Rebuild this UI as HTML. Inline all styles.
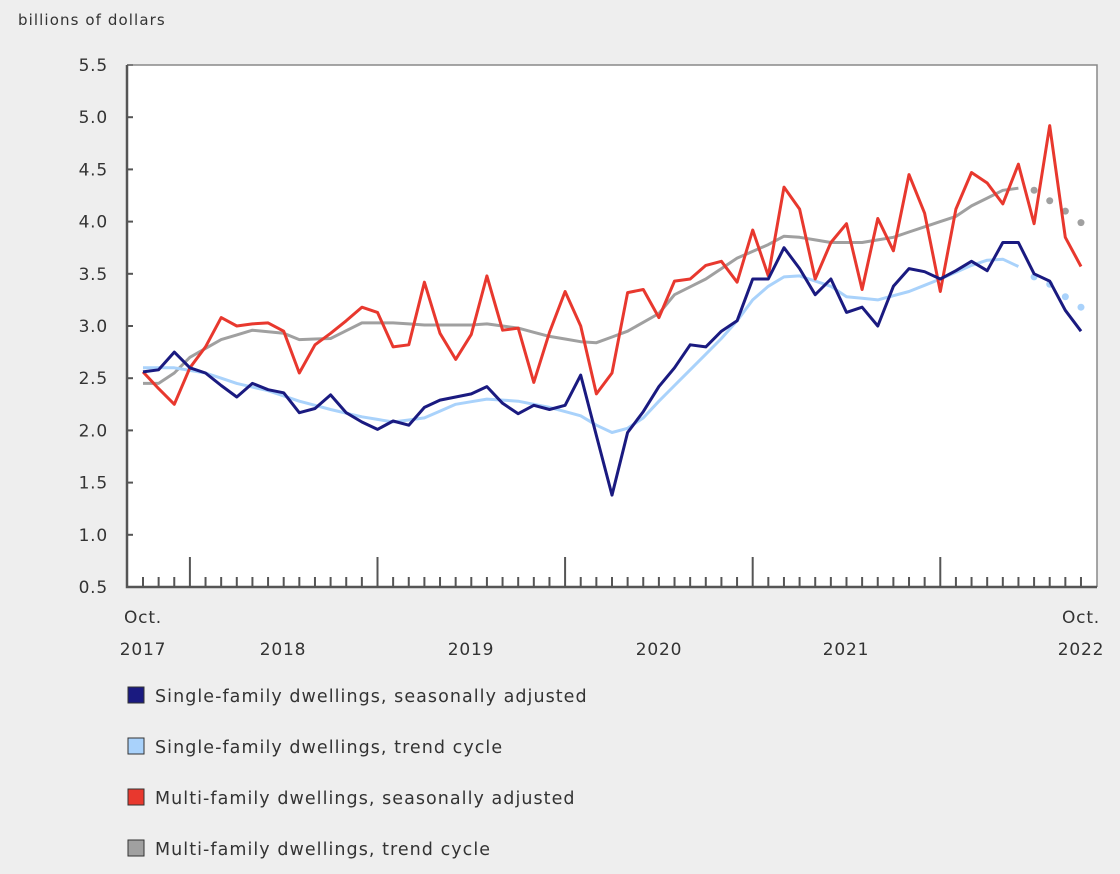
<!DOCTYPE html>
<html><head><meta charset="utf-8"><style>
body{margin:0;background:#eeeeee;width:1120px;height:874px;overflow:hidden;font-family:"DejaVu Sans","Liberation Sans",sans-serif;}
svg{position:absolute;left:0;top:0}
text{font-family:"DejaVu Sans","Liberation Sans",sans-serif;fill:#333}
</style></head><body>
<svg id="s" width="1120" height="874" xmlns="http://www.w3.org/2000/svg">
<rect x="127" y="65" width="970" height="522" fill="#fff"/>
<text x="18" y="25" font-size="15" letter-spacing="1.1">billions of dollars</text>
<g id="ax"></g>
<g id="ser"></g>
<g font-size="17" text-anchor="middle" letter-spacing="0.8">
<text x="143" y="623">Oct.</text><text x="143" y="655">2017</text>
<text x="283" y="655">2018</text><text x="471" y="655">2019</text>
<text x="659" y="655">2020</text><text x="846" y="655">2021</text>
<text x="1081" y="623">Oct.</text><text x="1081" y="655">2022</text>
</g>
<g font-size="17.5" letter-spacing="1.05">
<rect x="128" y="687" width="16" height="16" fill="#1a1a80" stroke="#333"/><text x="155" y="702">Single-family dwellings, seasonally adjusted</text>
<rect x="128" y="738" width="16" height="16" fill="#a9d2fb" stroke="#333"/><text x="155" y="753">Single-family dwellings, trend cycle</text>
<rect x="128" y="789" width="16" height="16" fill="#e8382e" stroke="#333"/><text x="155" y="804">Multi-family dwellings, seasonally adjusted</text>
<rect x="128" y="840" width="16" height="16" fill="#a0a0a0" stroke="#333"/><text x="155" y="855">Multi-family dwellings, trend cycle</text>
</g>
</svg>
<script>
const Y=v=>587-(v-0.5)*104.4, X=i=>143+i*15.633;
let ax='';
for(let k=0;k<=10;k++){const v=0.5+k*0.5,y=Y(v);ax+=`<text x="108" y="${y+6}" font-size="17" letter-spacing="0.8" text-anchor="end">${v.toFixed(1)}</text><line x1="127" y1="${y}" x2="133" y2="${y}" stroke="#555" stroke-width="2"/>`;}
for(let i=0;i<=60;i++){const x=X(i),maj=(i-3)%12==0;ax+=`<line x1="${x}" y1="587" x2="${x}" y2="${maj?557:577}" stroke="#555" stroke-width="2"/>`;}
ax+=`<path d="M127 65H1097V587" fill="none" stroke="#888" stroke-width="1.5"/><path d="M127 65V587H1097" fill="none" stroke="#555" stroke-width="2.5"/>`;
document.getElementById('ax').innerHTML=ax;
const red=[2.56,2.4,2.25,2.6,2.8,3.08,3.0,3.02,3.03,2.95,2.55,2.82,2.93,3.05,3.18,3.13,2.8,2.82,3.42,2.93,2.68,2.92,3.48,2.96,2.98,2.46,2.94,3.33,3.0,2.35,2.55,3.32,3.35,3.08,3.43,3.45,3.58,3.62,3.42,3.92,3.48,4.33,4.12,3.45,3.80,3.98,3.35,4.03,3.72,4.45,4.08,3.33,4.12,4.47,4.37,4.17,4.55,3.98,4.92,3.85,3.57];
const blue=[2.56,2.58,2.75,2.6,2.55,2.43,2.32,2.45,2.39,2.36,2.17,2.21,2.34,2.17,2.08,2.01,2.09,2.05,2.22,2.29,2.32,2.35,2.42,2.26,2.16,2.24,2.2,2.24,2.53,1.95,1.38,1.98,2.18,2.42,2.6,2.82,2.8,2.95,3.05,3.45,3.45,3.75,3.55,3.3,3.45,3.13,3.18,3.0,3.38,3.55,3.52,3.45,3.53,3.62,3.53,3.8,3.8,3.5,3.43,3.15,2.95];
function interp(pts){const a=[];for(let i=0;i<=60;i++){for(let k=0;k<pts.length-1;k++){const[x0,v0]=pts[k],[x1,v1]=pts[k+1];if(i>=x0&&i<=x1){a.push(v0+(v1-v0)*(x1==x0?0:(i-x0)/(x1-x0)));break;}}}return a;}
const lb=interp([[0,2.6],[2,2.6],[4,2.55],[6,2.45],[8,2.38],[10,2.28],[12,2.2],[14,2.13],[16,2.08],[18,2.12],[20,2.25],[22,2.3],[24,2.28],[26,2.22],[28,2.14],[29,2.05],[30,1.98],[31,2.02],[32,2.12],[33,2.28],[35,2.58],[37,2.88],[38,3.05],[39,3.25],[40,3.38],[41,3.47],[42,3.48],[44,3.38],[45,3.28],[47,3.25],[49,3.33],[51,3.45],[53,3.58],[54,3.63],[55,3.64],[56,3.57],[57,3.47],[58,3.4],[59,3.28],[60,3.18]]);
const gr=interp([[0,2.45],[1,2.45],[2,2.55],[3,2.7],[5,2.87],[7,2.96],[9,2.93],[10,2.87],[12,2.88],[14,3.03],[16,3.03],[18,3.01],[21,3.01],[22,3.02],[24,2.98],[26,2.9],[28,2.85],[29,2.84],[31,2.95],[33,3.12],[34,3.3],[36,3.45],[37,3.55],[38,3.65],[40,3.78],[41,3.86],[42,3.85],[44,3.8],[46,3.8],[48,3.85],[50,3.95],[52,4.05],[53,4.15],[55,4.3],[56,4.32],[57,4.3],[58,4.2],[59,4.1],[60,3.99]]);
const path=(a,n)=>a.slice(0,n).map((v,i)=>(i?'L':'M')+X(i).toFixed(1)+' '+Y(v).toFixed(1)).join('');
const dots=(a,c)=>a.slice(57).map((v,i)=>`<circle cx="${X(57+i)}" cy="${Y(v)}" r="3.5" fill="${c}"/>`).join('');
document.getElementById('ser').innerHTML=
`<path d="${path(gr,57)}" fill="none" stroke="#a0a0a0" stroke-width="3" stroke-linejoin="round"/>${dots(gr,'#a0a0a0')}`+
`<path d="${path(lb,57)}" fill="none" stroke="#a9d2fb" stroke-width="3" stroke-linejoin="round"/>${dots(lb,'#a9d2fb')}`+
`<path d="${path(red,61)}" fill="none" stroke="#e8382e" stroke-width="3" stroke-linejoin="round"/>`+
`<path d="${path(blue,61)}" fill="none" stroke="#1a1a80" stroke-width="3" stroke-linejoin="round"/>`;
</script>
</body></html>
